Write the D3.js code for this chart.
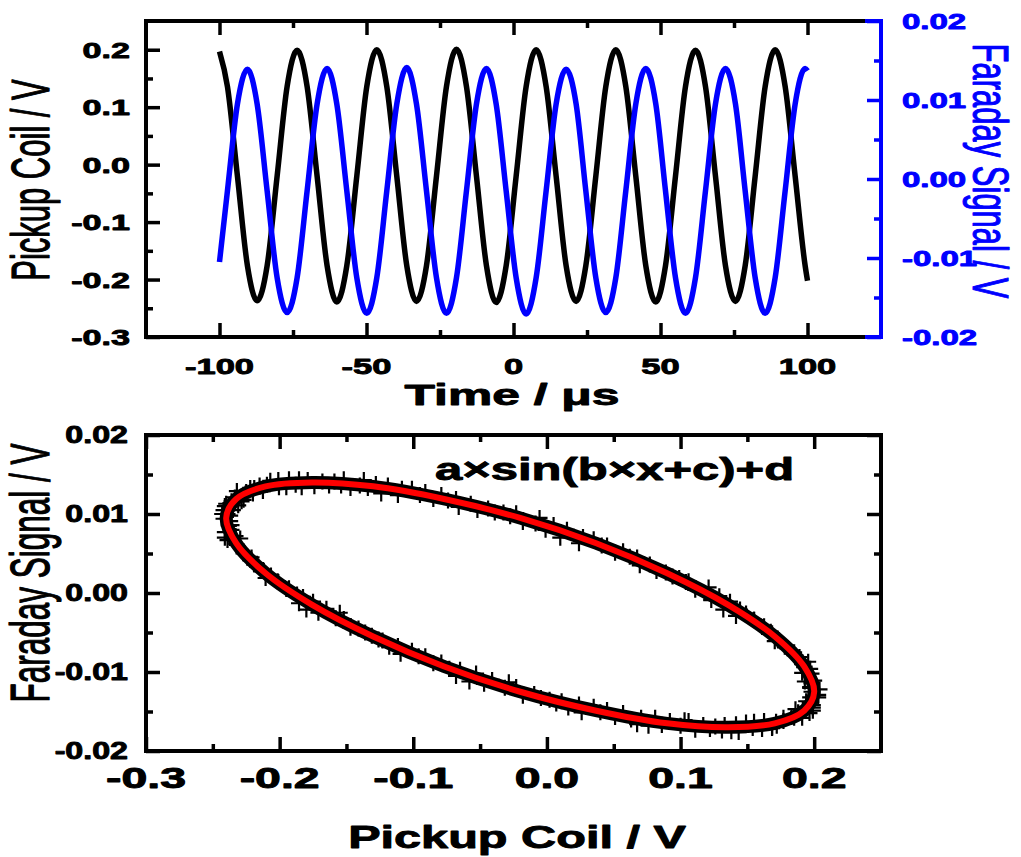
<!DOCTYPE html>
<html><head><meta charset="utf-8">
<script src="https://cdn.jsdelivr.net/npm/d3@7"></script>
<style>
body{margin:0;background:#fff}
svg{display:block;background:#fff}
text{font-family:"Liberation Sans",Arial,Helvetica,sans-serif}
</style>
</head><body>
<svg id="chart" width="1021" height="857"></svg>
<script>
// ---------- DATA ----------
const time = [-100,-97.3,-93.9,-90.5,-87.2,-83.8,-80.4,-77.0,-73.6,-70.2,-66.8,-63.4,-60.1,-56.7,-53.3,-49.9,
  -46.5,-43.1,-39.7,-36.3,-33.0,-29.6,-26.2,-22.8,-19.4,-16.0,-12.6,-9.2,-5.9,-2.5,0.9,4.3,7.7,11.1,14.5,17.9,
  21.3,24.6,28.0,31.4,34.8,38.2,41.6,45.0,48.4,51.7,55.1,58.5,61.9,65.3,68.7,72.1,75.5,78.8,82.2,85.6,89.0,
  92.4,95.8,99.2,100];
const pickup = [0.197,0.136,-0.020,-0.176,-0.237,-0.176,-0.020,0.136,0.199,0.136,-0.020,-0.176,-0.239,-0.176,-0.020,0.136,
  0.200,0.136,-0.020,-0.176,-0.238,-0.176,-0.020,0.136,0.201,0.136,-0.020,-0.176,-0.240,-0.176,-0.020,0.136,0.200,0.136,-0.020,-0.176,
  -0.238,-0.176,-0.020,0.136,0.200,0.136,-0.020,-0.176,-0.239,-0.176,-0.020,0.136,0.199,0.136,-0.020,-0.176,-0.238,-0.176,-0.020,0.136,0.200,
  0.136,-0.020,-0.176,-0.202];
const faraday = [-0.0105,-0.0015,0.0095,0.0139,0.0095,-0.0015,-0.0125,-0.0169,-0.0125,-0.0015,0.0095,0.0140,0.0095,-0.0015,-0.0125,-0.0170,
  -0.0125,-0.0015,0.0095,0.0141,0.0095,-0.0015,-0.0125,-0.0170,-0.0125,-0.0015,0.0095,0.0140,0.0095,-0.0015,-0.0125,-0.0171,-0.0125,-0.0015,0.0095,0.0139,
  0.0095,-0.0015,-0.0125,-0.0169,-0.0125,-0.0015,0.0095,0.0140,0.0095,-0.0015,-0.0125,-0.0170,-0.0125,-0.0015,0.0095,0.0140,0.0095,-0.0015,-0.0125,-0.0170,-0.0125,
  -0.0015,0.0095,0.0140,0.0137];

// scattered measurement points (Pickup Coil vs Faraday Signal)
const scatterX = [0.203,0.198,0.200,0.193,0.197,0.1925,0.186,0.189,0.180,0.178,0.1685,0.1675,
  0.161,0.149,0.1445,0.132,0.129,0.118,0.106,0.104,0.089,0.082,0.0675,0.062,
  0.051,0.035,0.027,0.010,0.005,-0.0085,-0.023,-0.0275,-0.044,-0.052,-0.068,-0.074,
  -0.085,-0.101,-0.1085,-0.124,-0.128,-0.140,-0.152,-0.154,-0.168,-0.174,-0.1855,-0.188,
  -0.195,-0.207,-0.2095,-0.220,-0.219,-0.2254,-0.232,-0.2285,-0.236,-0.235,-0.241,-0.237,
  -0.237,-0.242,-0.238,-0.241,-0.233,-0.2325,-0.232,-0.221,-0.222,-0.214,-0.2125,-0.2015,
  -0.195,-0.193,-0.1825,-0.180,-0.165,-0.158,-0.152,-0.136,-0.131,-0.118,-0.1115,-0.096,
  -0.085,-0.079,-0.065,-0.058,-0.041,-0.0315,-0.023,-0.0045,0.002,0.016,0.024,0.040,
  0.051,0.057,0.0705,0.076,0.092,0.100,0.106,0.122,0.126,0.138,0.1415,0.154,
  0.161,0.1625,0.1715,0.172,0.183,0.185,0.186,0.1965,0.194,0.199,0.197,0.203,
  0.197,0.204,0.197,0.198,0.191,0.1955,0.191,0.184,0.185,0.173,0.1705,0.1625,
  0.155,0.155,0.1415,0.137,0.123,0.121,0.111,0.099,0.094,0.077,0.0695,0.057,
  0.045,0.041,0.024,0.015,-0.001,-0.0055,-0.018,-0.0325,-0.039,-0.057,-0.066,-0.079,
  -0.091,-0.095,-0.1115,-0.119,-0.134,-0.137,-0.147,-0.159,-0.163,-0.179,-0.1835,-0.193,
  -0.201,-0.2005,-0.2125,-0.215,-0.225,-0.222,-0.227,-0.2335,-0.231,-0.240,-0.239,-0.242,
  -0.243,-0.236,-0.241,-0.236,-0.239,-0.2295,-0.227,-0.226,-0.217,-0.219,-0.2105,-0.2065,
  -0.201,-0.187,-0.1855,-0.175,-0.171,-0.155,-0.147,-0.141,-0.126,-0.123,-0.1095,-0.101,
  -0.091,-0.073,-0.068,-0.053,-0.047,-0.0285,-0.018,-0.0095,0.007,0.011,0.026,0.035,
  0.045,0.063,0.0675,0.081,0.086,0.103,0.111,0.117,0.131,0.133,0.1435,0.149,
  0.155,0.1685,0.1685,0.177,0.177,0.188,0.191,0.1915,0.199,0.194,0.199,0.198];
const scatterY = [-0.0129,-0.0114,-0.0111,-0.0112,-0.0096,-0.0094,-0.0079,-0.0081,-0.0070,-0.0068,-0.0051,-0.0049,
  -0.0043,-0.0026,-0.0021,-0.0021,-0.0004,0.0000,0.0015,0.0014,0.0026,0.0028,0.0045,0.0046,
  0.0051,0.0068,0.0071,0.0070,0.0086,0.0088,0.0101,0.0097,0.0107,0.0105,0.0119,0.0117,
  0.0119,0.0132,0.0132,0.0126,0.0138,0.0136,0.0144,0.0136,0.0141,0.0135,0.0144,0.0137,
  0.0134,0.0142,0.0137,0.0126,0.0133,0.0126,0.0129,0.0116,0.0116,0.0105,0.0110,0.0098,
  0.0091,0.0094,0.0085,0.0070,0.0072,0.0062,0.0061,0.0045,0.0042,0.0028,0.0029,0.0015,
  0.0005,0.0006,-0.0005,-0.0021,-0.0020,-0.0032,-0.0033,-0.0050,-0.0054,-0.0068,-0.0067,-0.0080,
  -0.0089,-0.0088,-0.0097,-0.0112,-0.0110,-0.0120,-0.0119,-0.0133,-0.0135,-0.0145,-0.0141,-0.0151,
  -0.0157,-0.0152,-0.0158,-0.0168,-0.0162,-0.0168,-0.0162,-0.0172,-0.0169,-0.0175,-0.0166,-0.0171,
  -0.0172,-0.0162,-0.0163,-0.0168,-0.0157,-0.0158,-0.0147,-0.0152,-0.0144,-0.0145,-0.0132,-0.0132,
  -0.0120,-0.0122,-0.0119,-0.0102,-0.0101,-0.0087,-0.0090,-0.0076,-0.0075,-0.0060,-0.0061,-0.0042,
  -0.0034,-0.0034,-0.0029,-0.0011,-0.0009,0.0007,0.0004,0.0019,0.0021,0.0036,0.0035,0.0053,
  0.0060,0.0060,0.0063,0.0080,0.0080,0.0095,0.0090,0.0102,0.0102,0.0113,0.0109,0.0124,
  0.0128,0.0124,0.0124,0.0136,0.0133,0.0143,0.0133,0.0141,0.0136,0.0143,0.0134,0.0144,
  0.0143,0.0134,0.0129,0.0136,0.0128,0.0133,0.0118,0.0121,0.0111,0.0113,0.0100,0.0105,
  0.0100,0.0086,0.0077,0.0080,0.0067,0.0069,0.0050,0.0050,0.0037,0.0036,0.0019,0.0022,
  0.0014,-0.0002,-0.0013,-0.0011,-0.0025,-0.0025,-0.0044,-0.0045,-0.0059,-0.0060,-0.0077,-0.0073,
  -0.0080,-0.0096,-0.0105,-0.0102,-0.0115,-0.0113,-0.0130,-0.0128,-0.0140,-0.0137,-0.0151,-0.0144,
  -0.0148,-0.0160,-0.0166,-0.0158,-0.0167,-0.0161,-0.0173,-0.0167,-0.0174,-0.0167,-0.0176,-0.0164,
  -0.0163,-0.0170,-0.0171,-0.0158,-0.0162,-0.0151,-0.0158,-0.0147,-0.0149,-0.0137,-0.0142,-0.0125];

// fitted curve a×sin(b×x+c)+d
const fitX = [0.200,0.1925,0.1705,0.1356,0.0900,0.0369,-0.0200,-0.0769,-0.1300,-0.1756,-0.2105,-0.2325,
  -0.2400,-0.2325,-0.2105,-0.1756,-0.1300,-0.0769,-0.0200,0.0369,0.0900,0.1356,0.1705,0.1925];
const fitY = [-0.0125,-0.0093,-0.0055,-0.0015,0.0025,0.0063,0.0095,0.0119,0.0135,0.0140,0.0135,0.0119,
  0.0095,0.0063,0.0025,-0.0015,-0.0055,-0.0093,-0.0125,-0.0149,-0.0165,-0.0170,-0.0165,-0.0149];

const timeTicks = [-100,-50,0,50,100];
const timeTickLabels = ["-100","-50","0","50","100"];
const timeMinor = [-75,-25,25,75];
const pickupTicks = [-0.3,-0.2,-0.1,0.0,0.1,0.2];
const pickupTickLabels = ["-0.3","-0.2","-0.1","0.0","0.1","0.2"];
const pickupMinor = [-0.25,-0.15,-0.05,0.05,0.15];
const faradayTicks = [-0.02,-0.01,0.0,0.01,0.02];
const faradayTickLabels = ["-0.02","-0.01","0.00","0.01","0.02"];
const faradayMinor = [-0.015,-0.005,0.005,0.015];
const fitLabel = "a×sin(b×x+c)+d";

// ---------- LAYOUT ----------
const svg = d3.select("#chart");
const BLUE = "#0000ff", RED = "#ff0000";
const T = {l:146, r:881, t:21, b:337};
const B = {l:146, r:881, t:435, b:751};

const xT = d3.scaleLinear().domain([-125,125]).range([T.l,T.r]);
const yP = d3.scaleLinear().domain([-0.3,0.25]).range([T.b,T.t]);
const yF = d3.scaleLinear().domain([-0.02,0.02]).range([T.b,T.t]);
const xB = d3.scaleLinear().domain([-0.3,0.25]).range([B.l,B.r]);
const yB = d3.scaleLinear().domain([-0.02,0.02]).range([B.b,B.t]);

function stext(x, y, str, o) {
  const fill = o.fill || "#000";
  const g = svg.append("g").attr("transform",
    `translate(${x},${y}) scale(${o.sx},1)` + (o.rot ? ` rotate(${o.rot})` : ""));
  g.append("text").attr("x",0).attr("y",0)
    .attr("text-anchor", o.anchor || "middle")
    .attr("font-size", o.size)
    .attr("font-weight", o.weight || "bold")
    .attr("fill", fill)
    .attr("stroke", fill)
    .attr("stroke-width", o.sw == null ? 0.9 : o.sw)
    .attr("stroke-linejoin", "round")
    .text(str);
}

function ticks(axisFn, scale, vals, len, tx, ty, color) {
  const g = svg.append("g").attr("transform", `translate(${tx},${ty})`)
    .call(axisFn(scale).tickValues(vals).tickSize(-len).tickFormat(""));
  g.select(".domain").remove();
  g.selectAll(".tick line").attr("stroke", color || "#000").attr("stroke-width", 3.5);
}

// ---------- TOP PLOT ----------
const line = (xs, ys, X, Y) => d3.line().curve(d3.curveMonotoneX)
  .x((d,i) => X(xs[i])).y((d,i) => Y(ys[i]))(xs);

svg.append("path").attr("d", line(time, pickup, xT, yP))
  .attr("fill","none").attr("stroke","#000").attr("stroke-width",5.5).attr("stroke-linejoin","round");
svg.append("path").attr("d", line(time, faraday, xT, yF))
  .attr("fill","none").attr("stroke",BLUE).attr("stroke-width",5.5).attr("stroke-linejoin","round");

ticks(d3.axisBottom, xT, timeTicks, 14, 0, T.b);
ticks(d3.axisBottom, xT, timeMinor, 7, 0, T.b);
ticks(d3.axisTop, xT, timeTicks, 14, 0, T.t);
ticks(d3.axisTop, xT, timeMinor, 7, 0, T.t);
ticks(d3.axisLeft, yP, pickupTicks, 14, T.l, 0);
ticks(d3.axisLeft, yP, pickupMinor, 7, T.l, 0);
ticks(d3.axisRight, yF, faradayTicks, 14, T.r, 0, BLUE);
ticks(d3.axisRight, yF, faradayMinor, 7, T.r, 0, BLUE);

svg.append("path").attr("d", `M${T.r},${T.t} H${T.l} V${T.b} H${T.r}`)
  .attr("fill","none").attr("stroke","#000").attr("stroke-width",4).attr("stroke-linecap","square");
svg.append("path").attr("d", `M${T.r-14},${T.t} H${T.r} V${T.b} H${T.r-14}`)
  .attr("fill","none").attr("stroke",BLUE).attr("stroke-width",4).attr("stroke-linecap","square");

pickupTicks.forEach((v,i) => stext(130, yP(v)+8, pickupTickLabels[i], {size:22, sx:1.55, anchor:"end"}));
faradayTicks.forEach((v,i) => stext(902, yF(v)+8, faradayTickLabels[i], {size:22, sx:1.5, anchor:"start", fill:BLUE}));
timeTicks.forEach((v,i) => stext(xT(v), 374, timeTickLabels[i], {size:23, sx:1.5}));

stext(49, 180, "Pickup Coil / V", {size:31, sx:1.75, rot:-90, weight:"normal", sw:0.7});
stext(973, 171, "Faraday Signal / V", {size:31, sx:1.62, rot:90, weight:"normal", fill:BLUE, sw:0.7});
stext(512, 405, "Time / μs", {size:30, sx:1.66});

// ---------- BOTTOM PLOT ----------
const fitLine = d3.line().curve(d3.curveCatmullRomClosed.alpha(0.5))
  .x((d,i) => xB(fitX[i])).y((d,i) => yB(fitY[i]))(fitX);

svg.append("path").attr("d", fitLine).attr("fill","none").attr("stroke","#000").attr("stroke-width",13);
svg.append("g").selectAll("path").data(scatterX).join("path")
  .attr("d", (d,i) => {
    const cx = xB(scatterX[i]), cy = yB(scatterY[i]), h = 8;
    return `M${cx-h},${cy}H${cx+h}M${cx},${cy-h}V${cy+h}`;
  })
  .attr("stroke","#000").attr("stroke-width",2.2).attr("fill","none");
svg.append("path").attr("d", fitLine).attr("fill","none").attr("stroke",RED).attr("stroke-width",6);

ticks(d3.axisBottom, xB, pickupTicks, 14, 0, B.b);
ticks(d3.axisBottom, xB, pickupMinor, 7, 0, B.b);
ticks(d3.axisTop, xB, pickupTicks, 14, 0, B.t);
ticks(d3.axisTop, xB, pickupMinor, 7, 0, B.t);
ticks(d3.axisLeft, yB, faradayTicks, 14, B.l, 0);
ticks(d3.axisLeft, yB, faradayMinor, 7, B.l, 0);
ticks(d3.axisRight, yB, faradayTicks, 14, B.r, 0);
ticks(d3.axisRight, yB, faradayMinor, 7, B.r, 0);

svg.append("rect").attr("x",B.l).attr("y",B.t).attr("width",B.r-B.l).attr("height",B.b-B.t)
  .attr("fill","none").attr("stroke","#000").attr("stroke-width",4);

faradayTicks.forEach((v,i) => stext(128, yB(v)+8, faradayTickLabels[i], {size:23, sx:1.4, anchor:"end"}));
pickupTicks.forEach((v,i) => stext(xB(v), 788, pickupTickLabels[i], {size:29, sx:1.6}));

stext(49, 573, "Faraday Signal / V", {size:31.5, sx:1.75, rot:-90, weight:"normal", sw:0.7});
stext(517, 848, "Pickup Coil / V", {size:32, sx:1.52});
stext(435, 480, fitLabel, {size:32, sx:1.53, anchor:"start"});
</script>
</body></html>
